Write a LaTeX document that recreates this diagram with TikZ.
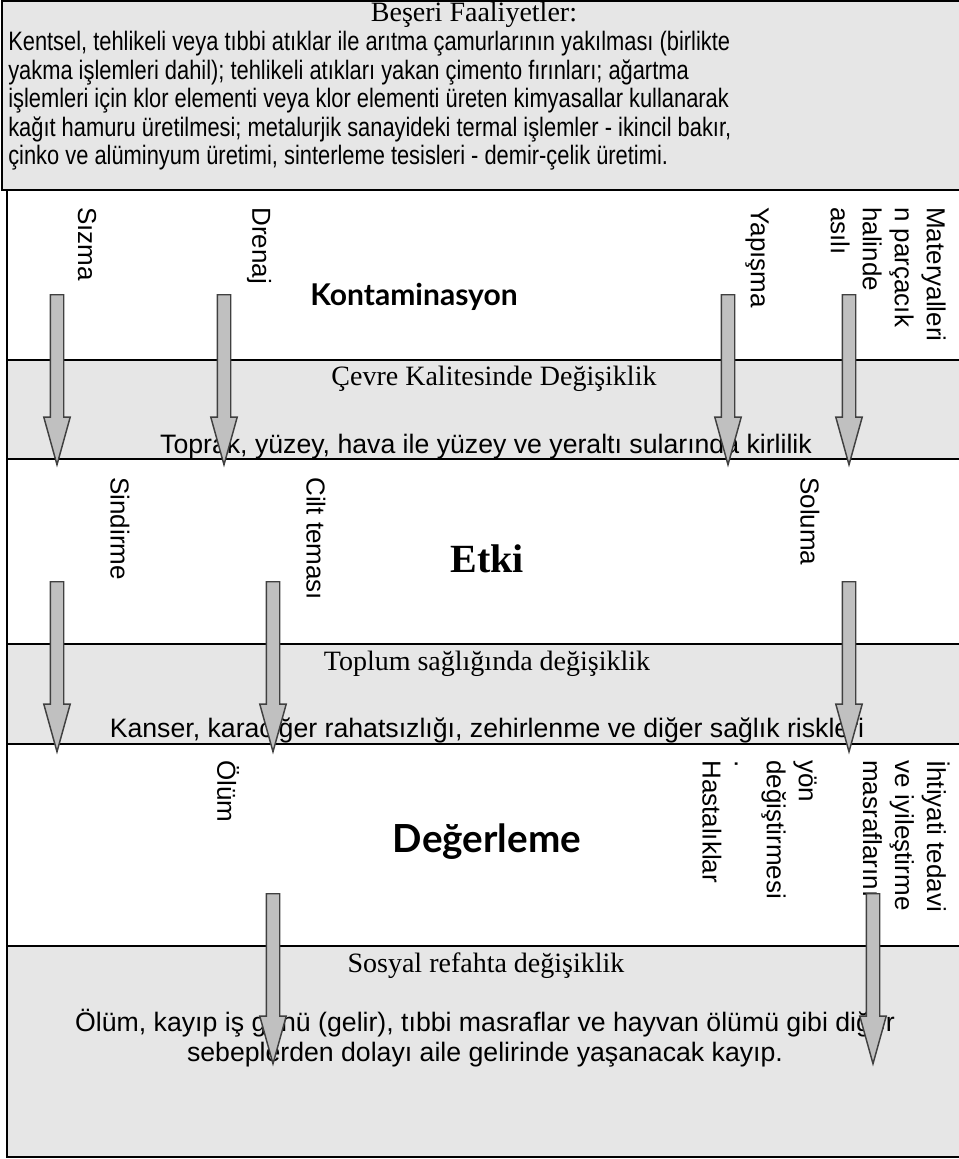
\documentclass[tikz,border=0pt]{standalone}
\usepackage{fontspec}
\setmainfont{Liberation Sans}
\newfontfamily\narrowsans[FakeStretch=0.82]{Liberation Sans}
\newfontfamily\hdserif{Liberation Serif}
\newfontfamily\hdhuman{Lato}
\usetikzlibrary{positioning,shapes.arrows}
\definecolor{ink}{HTML}{000000}
\definecolor{bandgray}{HTML}{E6E6E6}
\definecolor{arrowfill}{HTML}{C0C0C0}
\definecolor{arrowline}{HTML}{404040}
\tikzset{
  frame/.style={draw=ink, line width=1.5pt},
  bandbox/.style={draw=ink, line width=1.5pt, fill=bandgray},
  bandhd/.style={font=\hdserif\fontsize{21}{24}\selectfont, inner sep=0pt, anchor=base},
  bandtxt/.style={font=\fontsize{20}{22.5}\selectfont, inner sep=0pt, align=center, anchor=base},
  srctxt/.style={font=\narrowsans\fontsize{20}{21.4}\selectfont, inner sep=0pt, align=left, anchor=north west},
  stage/.style={font=\hdhuman\bfseries\fontsize{22.5}{26}\selectfont, inner sep=0pt, anchor=base},
  route/.style={font=\fontsize{19.5}{24}\selectfont, rotate=-90, inner sep=0pt, align=left, anchor=west},
  flow/.style={single arrow, draw=arrowline, fill=arrowfill, line width=1.1pt,
               inner xsep=0pt, inner ysep=4.5pt, single arrow head extend=4.875pt,
               single arrow tip angle=31, minimum height=127.5pt, rotate=-90, anchor=tail},
}

\begin{document}
\begin{tikzpicture}[x=0.75pt, y=-0.75pt]
\useasboundingbox (0,0) rectangle (959,1159);
% boxes and bands
\draw[bandbox] (2,1) rectangle (962,190);
\draw[frame] (7,190) rectangle (962,360);
\draw[bandbox] (7,360) rectangle (962,459);
\draw[frame] (7,459) rectangle (962,644);
\draw[bandbox] (7,644) rectangle (962,744);
\draw[frame] (7,744) rectangle (962,946);
\draw[bandbox] (7,946) rectangle (962,1157);

% human activities
\node[bandhd] (actHd) at (474,22) {Beşeri Faaliyetler:};
\node[srctxt] (actTxt) at (8,31)
  {Kentsel, tehlikeli veya tıbbi atıklar ile arıtma çamurlarının yakılması (birlikte\\
   yakma işlemleri dahil); tehlikeli atıkları yakan çimento fırınları; ağartma\\
   işlemleri için klor elementi veya klor elementi üreten kimyasallar kullanarak\\
   kağıt hamuru üretilmesi; metalurjik sanayideki termal işlemler - ikincil bakır,\\
   çinko ve alüminyum üretimi, sinterleme tesisleri - demir-çelik üretimi.};

% contamination
\node[stage] (contam) at (414,305) {Kontaminasyon};
\node[route] (leach) at (87,207) {Sızma};
\node[route] (runoff) at (259,207) {Drenaj};
\node[route] (depos) at (757,207) {Yapışma};
\node[route, anchor=north west] (susp) at (946,207) {Materyalleri\\n parçacık\\halinde\\asılı};
\node[bandhd] (envHd) at (494,385) {Çevre Kalitesinde Değişiklik};
\node[bandtxt] (envTxt) at (486,453) {Toprak, yüzey, hava ile yüzey ve yeraltı sularında kirlilik};

% exposure
\node[stage, font=\hdserif\bfseries\fontsize{30}{32}\selectfont] (expo) at (487,572) {Etki};
\node[route] (ingest) at (120,477) {Sindirme};
\node[route] (dermal) at (316,477) {Cilt teması};
\node[route] (inhal) at (810,477) {Soluma};
\node[bandhd] (healthHd) at (487,670) {Toplum sağlığında değişiklik};
\node[bandtxt] (healthTxt) at (487,737) {Kanser, karaciğer rahatsızlığı, zehirlenme ve diğer sağlık riskleri};

% valuation
\node[stage, font=\hdhuman\bfseries\fontsize{29}{32}\selectfont] (valu) at (487,852) {Değerleme};
\node[route] (death) at (228,760) {Ölüm};
\node[route] (ill) at (712,760) {Hastalıklar};
\node[route, anchor=north west] (divert) at (817,760) {yön\\değiştirmesi\\.};
\node[route, anchor=north west] (remed) at (950,760) {İhtiyati tedavi\\ve iyileştirme\\masraflarını};
\node[bandhd] (welfHd) at (486,972) {Sosyal refahta değişiklik};
\node[bandtxt, anchor=north] (welfTxt) at (485,1009)
  {Ölüm, kayıp iş günü (gelir), tıbbi masraflar ve hayvan ölümü gibi diğer\\
   sebeplerden dolayı aile gelirinde yaşanacak kayıp.};

% block arrows
\node[flow] (leachAr) at (57,294) {};
\node[flow] (runoffAr) at (224,294) {};
\node[flow] (deposAr) at (728,294) {};
\node[flow] (suspAr) at (849,294) {};
\node[flow] (ingestAr) at (57,581) {};
\node[flow] (dermalAr) at (273,581) {};
\node[flow] (inhalAr) at (849,581) {};
\node[flow] (deathAr) at (273,893) {};
\node[flow] (remedAr) at (873,893) {};
\end{tikzpicture}
\end{document}
